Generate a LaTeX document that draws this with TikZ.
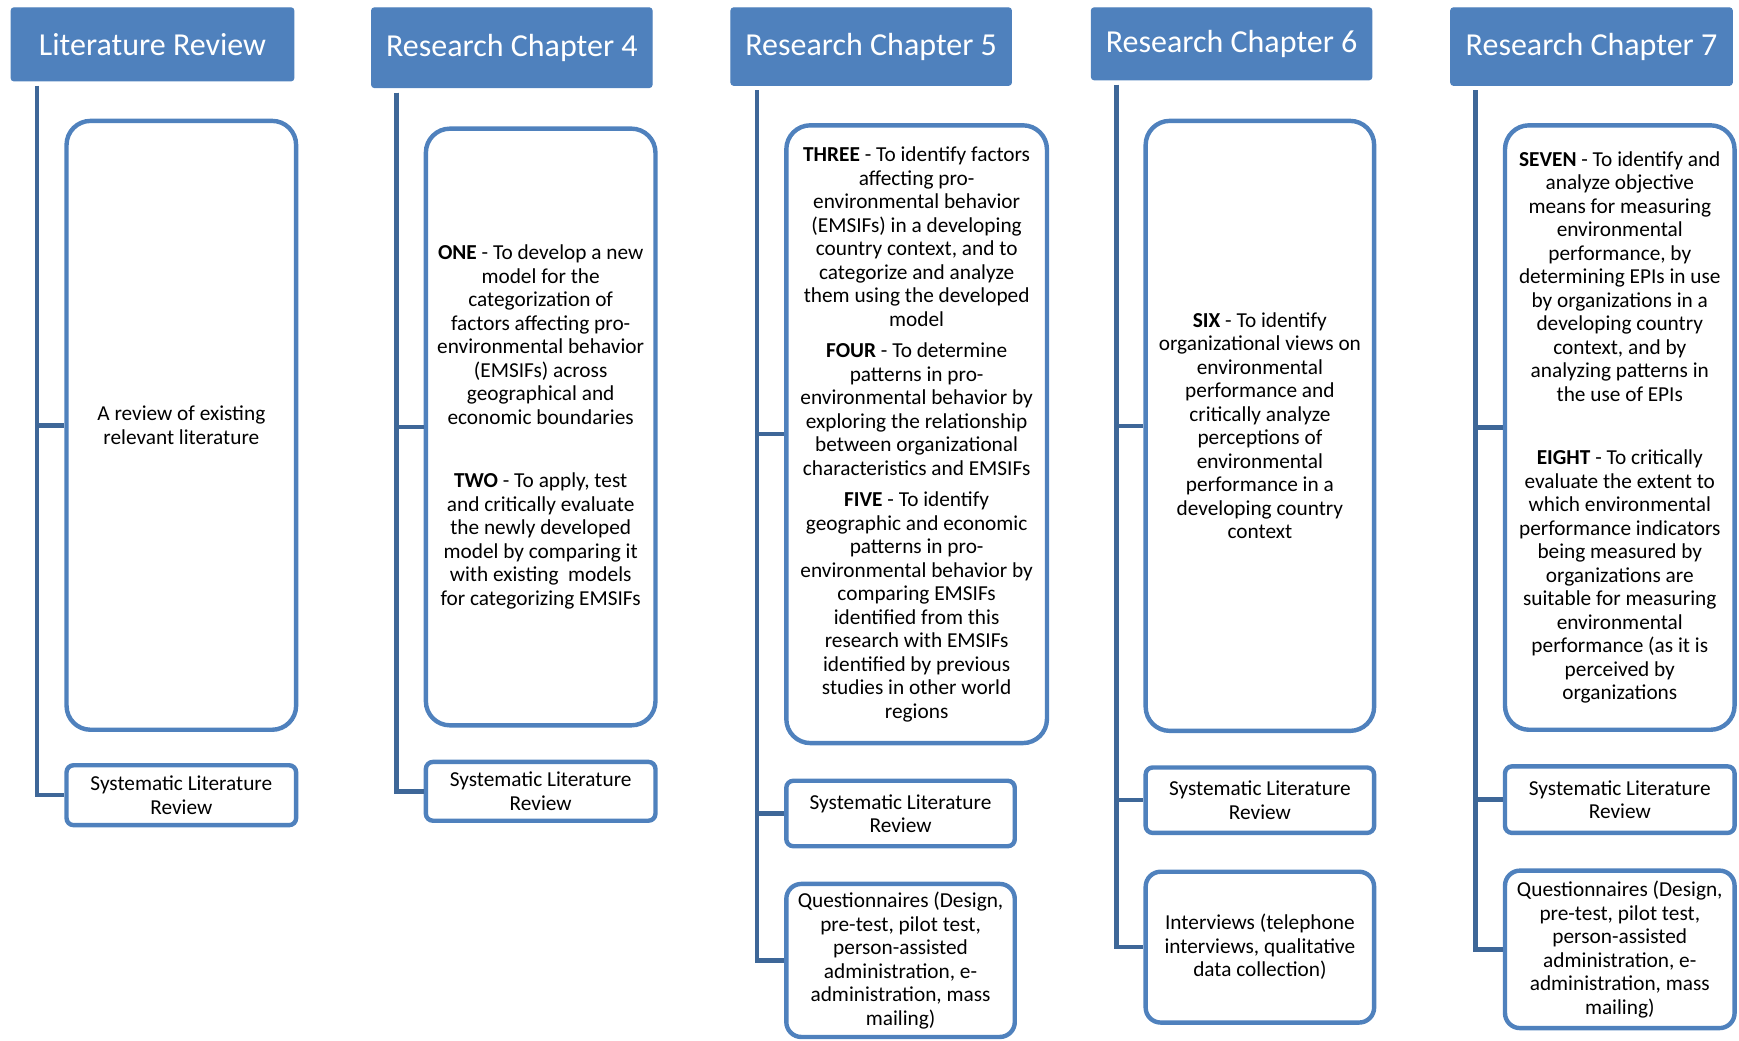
\documentclass[tikz,border=0pt]{standalone}
\usepackage{fontspec}
\setmainfont{Carlito}
\definecolor{accent}{RGB}{79,129,189}
\definecolor{linkblue}{RGB}{62,103,152}

\begin{document}
\begin{tikzpicture}[x=1.109pt,y=-1.109pt,
  % a box given by its left, top, right and bottom edges
  spans/.style n args={4}{at={({(#1+#3)/2},{(#2+#4)/2})}, anchor=center,
    minimum width={(#3-#1)*1.109pt}, minimum height={(#4-#2)*1.109pt}},
  head/.style={fill=accent, draw=accent, line width=1pt, rounded corners=3pt,
    text=white, font=\fontsize{32}{38}\selectfont, inner sep=0pt},
  bigbox/.style={draw=accent, line width=4.4pt, fill=white, rounded corners=24pt,
    inner sep=0pt, align=center, font=\fontsize{21.3}{23.5}\selectfont},
  smallbox/.style={draw=accent, line width=4.4pt, fill=white, rounded corners=7pt,
    inner sep=0pt, align=center, font=\fontsize{21.3}{23.5}\selectfont},
  midbox/.style={smallbox, rounded corners=15pt},
  link/.style={draw=linkblue, line width=4.4pt, line join=miter}
]
\useasboundingbox (0,0) rectangle (1568,938);

% ---------- Literature Review ----------
\node[head, spans={10}{7}{265}{73}] (h1) {Literature Review};
\node[bigbox, spans={60}{109}{267}{658}] (b1) {A review of existing\\relevant literature};
\node[smallbox, spans={60}{690}{267}{744}] (s1) {Systematic Literature\\Review};
\coordinate (t1) at ([xshift=24*1.109pt,yshift=-4*1.109pt]h1.south west);
\draw[link] (t1) |- (b1.west);
\draw[link] (t1) |- (s1.west);

% ---------- Research Chapter 4 ----------
\node[head, spans={335}{7}{588}{79}] (h2) {Research Chapter 4};
\node[bigbox, spans={384}{116}{591}{654}] (b2) {\textbf{ONE} - To develop a new\\model for the\\categorization of\\factors affecting pro-\\environmental behavior\\(EMSIFs) across\\geographical and\\economic boundaries\\[40pt]\textbf{TWO} - To apply, test\\and critically evaluate\\the newly developed\\model by comparing it\\with existing~~models\\for categorizing EMSIFs};
\node[smallbox, spans={384}{687}{591}{740}] (s2) {Systematic Literature\\Review};
\coordinate (t2) at ([xshift=23*1.109pt,yshift=-4*1.109pt]h2.south west);
\draw[link] (t2) |- (b2.west);
\draw[link] (t2) |- (s2.west);

% ---------- Research Chapter 5 ----------
\node[head, spans={659}{7}{912}{77}] (h3) {Research Chapter 5};
\node[bigbox, spans={709}{113}{944}{670}] (b3) {\textbf{THREE} - To identify factors\\affecting pro-\\environmental behavior\\(EMSIFs) in a developing\\country context, and to\\categorize and analyze\\them using the developed\\model\\[8pt]\textbf{FOUR} - To determine\\patterns in pro-\\environmental behavior by\\exploring the relationship\\between organizational\\characteristics and EMSIFs\\[8pt]\textbf{FIVE} - To identify\\geographic and economic\\patterns in pro-\\environmental behavior by\\comparing EMSIFs\\identified from this\\research with EMSIFs\\identified by previous\\studies in other world\\regions};
\node[smallbox, spans={709}{704}{915}{763}] (s3) {Systematic Literature\\Review};
\node[midbox, spans={709}{797}{915}{935}] (q3) {Questionnaires (Design,\\pre-test, pilot test,\\person-assisted\\administration, e-\\administration, mass\\mailing)};
\coordinate (t3) at ([xshift=24*1.109pt,yshift=-4*1.109pt]h3.south west);
\draw[link] (t3) |- (b3.west);
\draw[link] (t3) |- (s3.west);
\draw[link] (t3) |- (q3.west);

% ---------- Research Chapter 6 ----------
\node[head, spans={984}{7}{1237}{72}] (h4) {Research Chapter 6};
\node[bigbox, spans={1033}{109}{1239}{659}] (b4) {\textbf{SIX} - To identify\\organizational views on\\environmental\\performance and\\critically analyze\\perceptions of\\environmental\\performance in a\\developing country\\context};
\node[smallbox, spans={1033}{692}{1239}{751}] (s4) {Systematic Literature\\Review};
\node[midbox, spans={1033}{786}{1239}{922}] (i4) {Interviews (telephone\\interviews, qualitative\\data collection)};
\coordinate (t4) at ([xshift=23*1.109pt,yshift=-4*1.109pt]h4.south west);
\draw[link] (t4) |- (b4.west);
\draw[link] (t4) |- (s4.west);
\draw[link] (t4) |- (i4.west);

% ---------- Research Chapter 7 ----------
\node[head, spans={1308}{7}{1562}{77}] (h5) {Research Chapter 7};
\node[bigbox, spans={1357}{113}{1564}{658}] (b5) {\textbf{SEVEN} - To identify and\\analyze objective\\means for measuring\\environmental\\performance, by\\determining EPIs in use\\by organizations in a\\developing country\\context, and by\\analyzing patterns in\\the use of EPIs\\[40pt]\textbf{EIGHT} - To critically\\evaluate the extent to\\which environmental\\performance indicators\\being measured by\\organizations are\\suitable for measuring\\environmental\\performance (as it is\\perceived by\\organizations};
\node[smallbox, spans={1357}{691}{1564}{751}] (s5) {Systematic Literature\\Review};
\node[midbox, spans={1357}{785}{1564}{927}] (q5) {Questionnaires (Design,\\pre-test, pilot test,\\person-assisted\\administration, e-\\administration, mass\\mailing)};
\coordinate (t5) at ([xshift=23*1.109pt,yshift=-4*1.109pt]h5.south west);
\draw[link] (t5) |- (b5.west);
\draw[link] (t5) |- (s5.west);
\draw[link] (t5) |- (q5.west);
\end{tikzpicture}
\end{document}
